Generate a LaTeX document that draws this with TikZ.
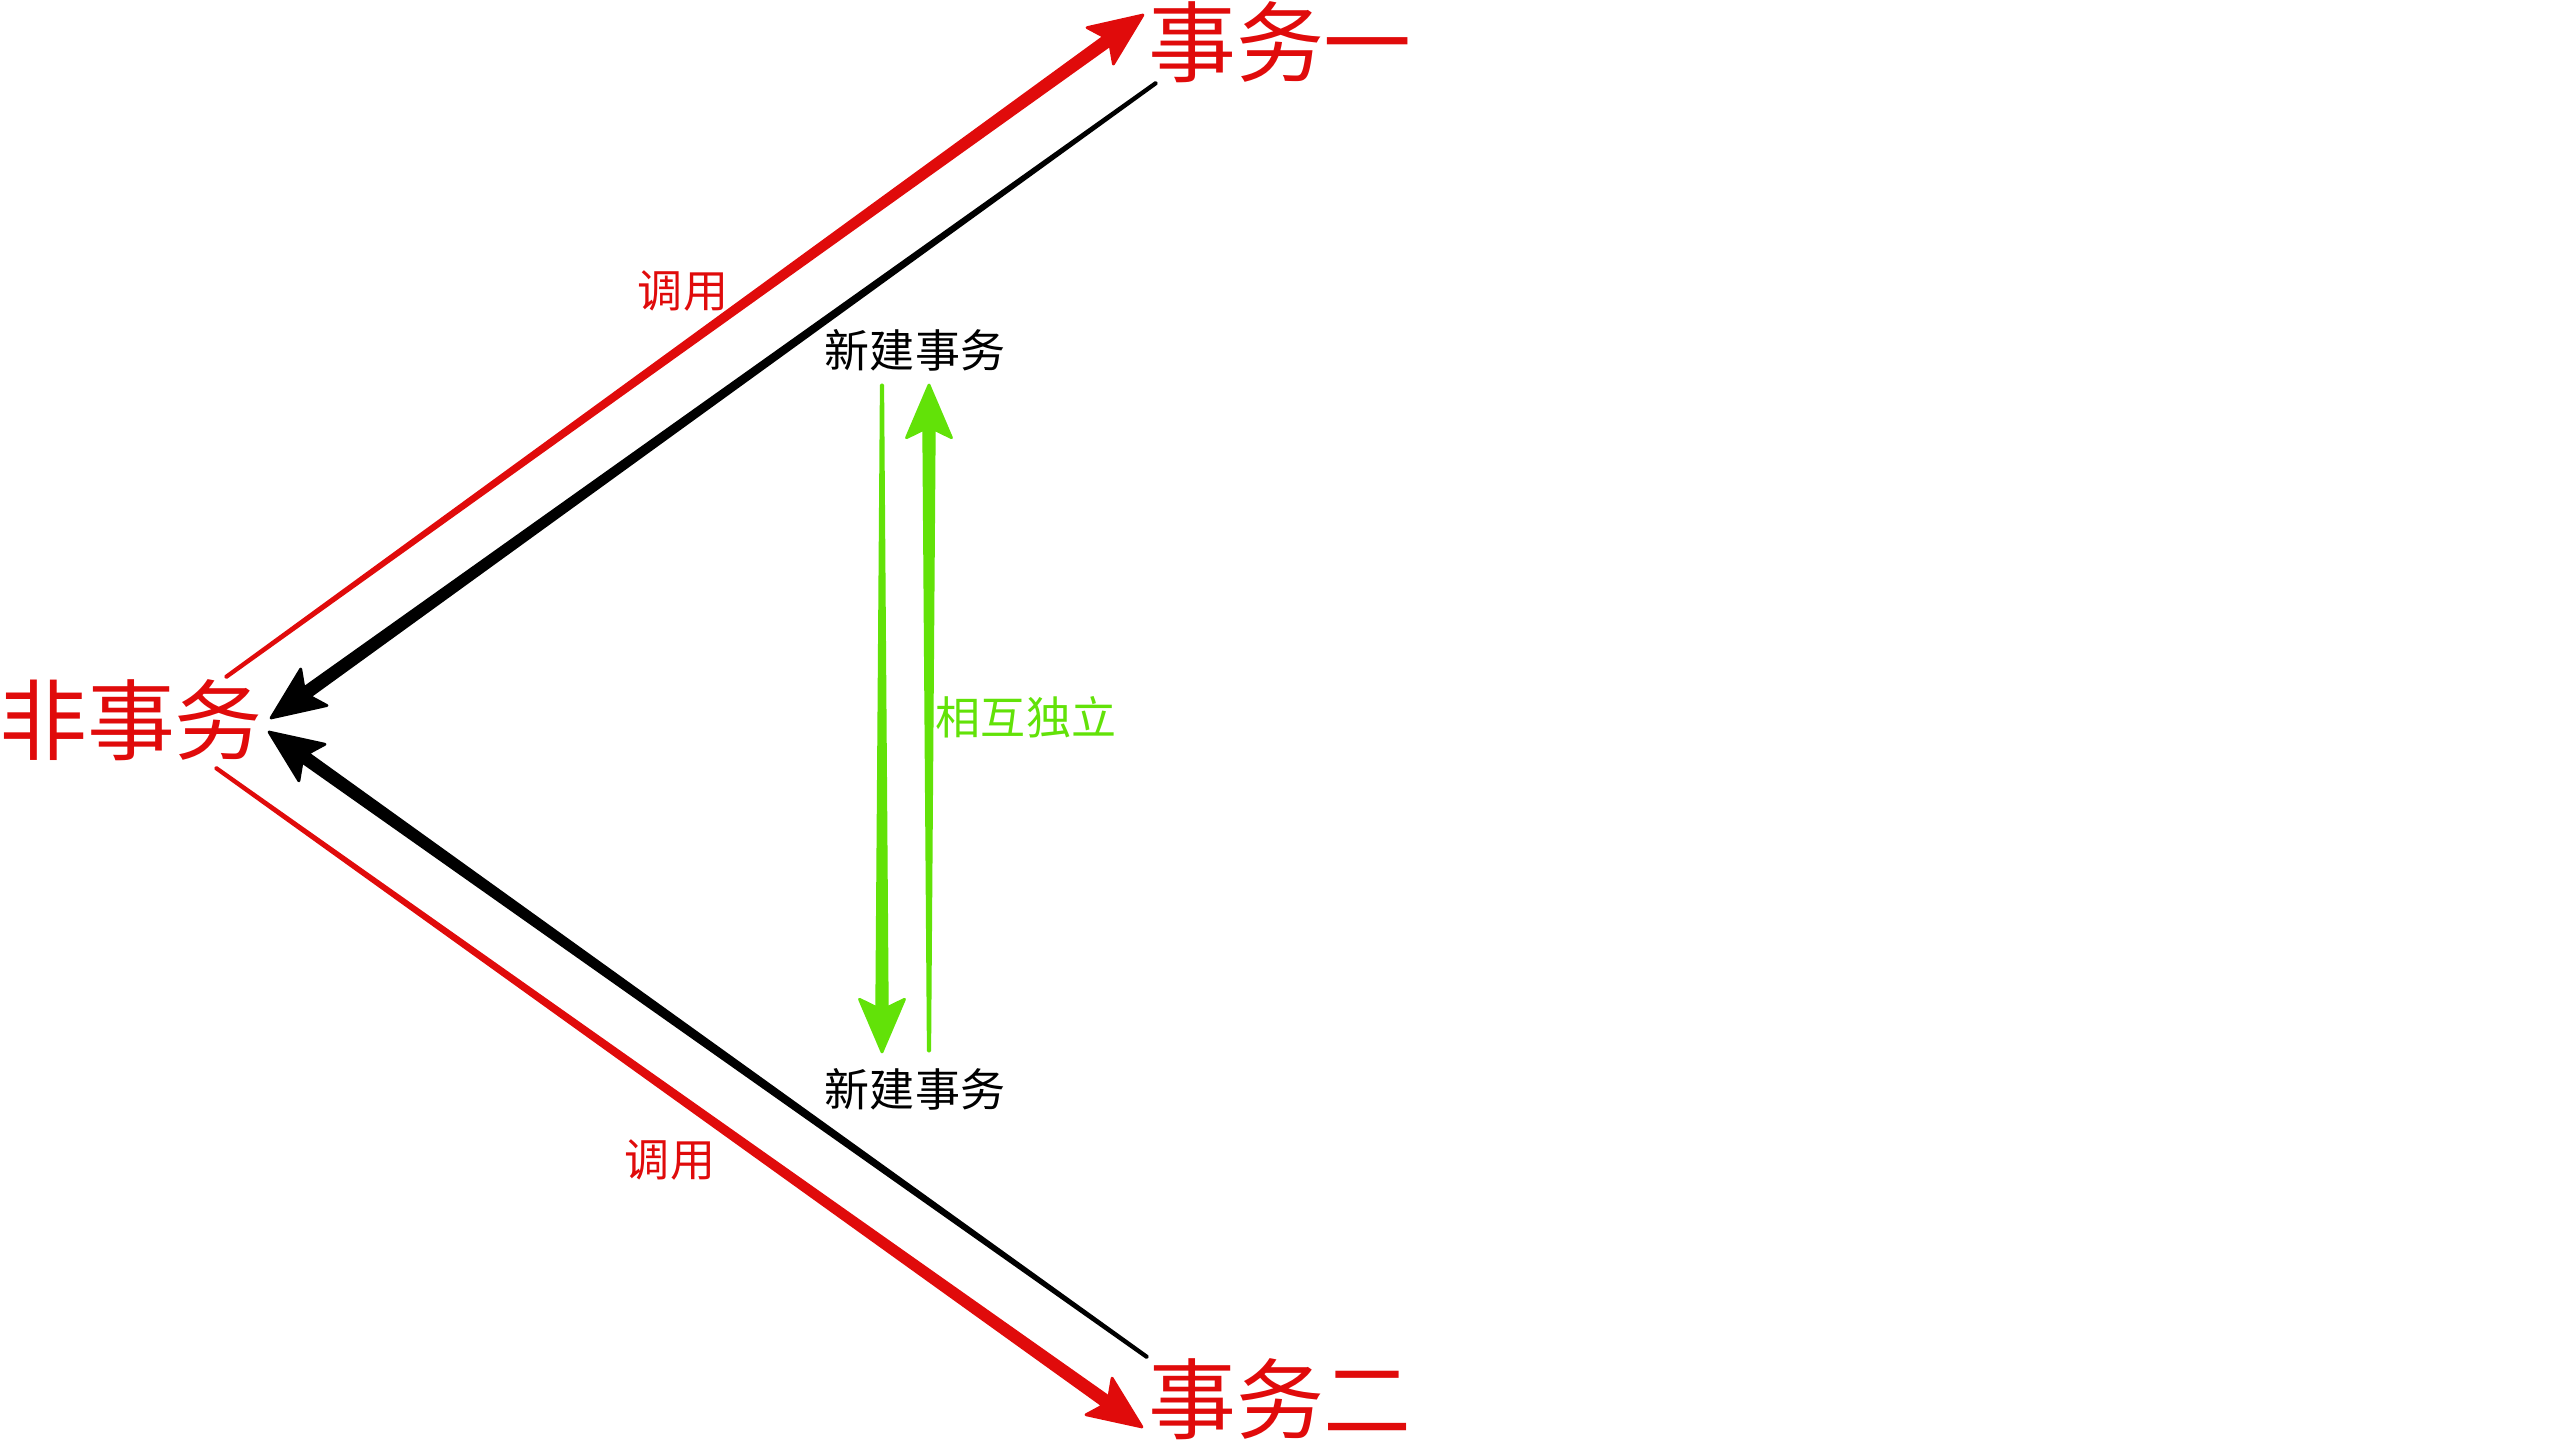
\documentclass[tikz,border=0pt]{standalone}
\usepackage{fontspec}
\usepackage{tikz}
\usetikzlibrary{calc}
\newfontfamily\cjk{Noto Sans CJK SC}
\definecolor{txred}{RGB}{224,11,11}
\definecolor{indgreen}{RGB}{98,226,8}

% tapered arrow: colour, tail, tip
\newcommand{\taper}[3]{%
  \path ($(#3)!15pt!(#2)$) coordinate (hb) ($(#3)!12.6pt!(#2)$) coordinate (hn);
  \filldraw[#1, line join=round, line width=0.8pt]
    ($(#2)!0.2pt!90:(#3)$) -- ($(hn)!1.5pt!90:(#3)$) -- ($(hb)!6.4pt!90:(#3)$) -- (#3)
    -- ($(hb)!6.4pt!-90:(#3)$) -- ($(hn)!1.5pt!-90:(#3)$) -- ($(#2)!0.2pt!-90:(#3)$) -- cycle;}

\begin{document}
\begin{tikzpicture}[x=0.01cm,y=-0.01cm,
  big/.style={inner sep=0pt, text=txred, font=\cjk\fontsize{25}{25}\selectfont},
  small/.style={inner sep=0pt, font=\cjk\fontsize{12.8}{13}\selectfont}]
\useasboundingbox (0,0) rectangle (2560,1440);

\node[big] (nontx) at (131,720) {非事务};
\node[big] (tx1) at (1280,42) {事务一};
\node[big] (tx2) at (1280,1399) {事务二};

\node[small] (new1) at (915,350) {新建事务};
\node[small] (new2) at (915,1089) {新建事务};
\node[small, text=txred] (call1) at (683,291) {调用};
\node[small, text=txred] (call2) at (670,1160) {调用};
\node[small, text=indgreen] (indep) at (1026,717) {相互独立};

\coordinate (rt0) at (226,677);  \coordinate (rt1) at (1143,15);
\coordinate (bt0) at (1156,83);  \coordinate (bt1) at (271,718);
\coordinate (bb0) at (1147,1357); \coordinate (bb1) at (269,732);
\coordinate (rb0) at (216,768);  \coordinate (rb1) at (1142,1427);
\coordinate (gl0) at (882,385);  \coordinate (gl1) at (882,1052);
\coordinate (gr0) at (929,1051); \coordinate (gr1) at (929,385);

\taper{txred}{rt0}{rt1}
\taper{black}{bt0}{bt1}
\taper{black}{bb0}{bb1}
\taper{txred}{rb0}{rb1}
\taper{indgreen}{gl0}{gl1}
\taper{indgreen}{gr0}{gr1}

\end{tikzpicture}
\end{document}
